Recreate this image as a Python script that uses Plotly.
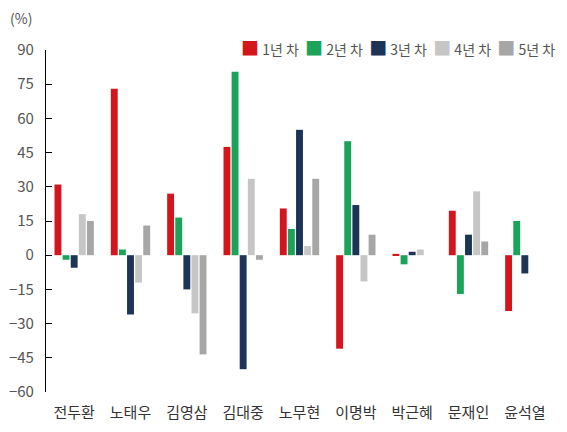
import plotly.graph_objects as go

categories = ['전두환', '노태우', '김영삼', '김대중', '노무현', '이명박', '박근혜', '문재인', '윤석열']
series_names = ['1년 차', '2년 차', '3년 차', '4년 차', '5년 차']
year1 = [31, 73, 27, 47.5, 20.5, -41, 0.6, 19.5, -24.5]
year2 = [-2, 2.5, 16.5, 80.5, 11.5, 50, -4, -17, 15]
year3 = [-5.5, -26, -15, -50, 55, 22, 1.5, 9, -8]
year4 = [18, -12, -25.5, 33.5, 4, -11.5, 2.5, 28, None]
year5 = [15, 13, -43.5, -2, 33.5, 9, None, 6, None]
y_ticks = [-60, -45, -30, -15, 0, 15, 30, 45, 60, 75, 90]

colors = ['#D4161C', '#1CA35A', '#1B3458', '#C6C6C6', '#A6A6A6']
FONT = 'Noto Sans CJK KR'

fig = go.Figure()
for name, vals, col in zip(series_names, [year1, year2, year3, year4, year5], colors):
    fig.add_trace(go.Bar(x=categories, y=vals, name=name, marker_color=col,
                         marker_line_width=0, showlegend=False))

# compact legend drawn as one text line (colored squares + series names)
legend_text = '&nbsp;&nbsp;'.join(
    f'<span style="color:{c};font-size:18px">■</span> {nm}' for nm, c in zip(series_names, colors))

n = len(categories)
fig.update_layout(
    width=567, height=432,
    margin=dict(l=38, r=22, t=42, b=48, autoexpand=False),
    paper_bgcolor='white', plot_bgcolor='white',
    barmode='group', bargap=0.28, bargroupgap=0.15,
    font=dict(family=FONT, color='#555555'),
    showlegend=False,
    xaxis=dict(type='category', showline=False, ticks='', showgrid=False,
               tickfont=dict(size=15, color='#333333'), ticklabelstandoff=10,
               range=[-0.5, n - 0.5], automargin=False),
    xaxis2=dict(overlaying='x', anchor='free', position=0.4, range=[-0.5, n - 0.5],
                showline=True, linecolor='#D0D0D0', linewidth=1.5,
                tickmode='array', tickvals=[i - 0.5 for i in range(n + 1)],
                ticks='outside', ticklen=5, tickcolor='#D0D0D0', tickwidth=1,
                showticklabels=False, showgrid=False, zeroline=False, layer='below traces'),
    yaxis=dict(range=[-60, 90], tickmode='array', tickvals=y_ticks,
               showline=True, linecolor='black', linewidth=1.2,
               ticks='inside', ticklen=6, tickcolor='black', tickwidth=1.2,
               showgrid=False, zeroline=False, automargin=False,
               tickfont=dict(size=15, color='#555555'), ticklabelstandoff=8),
    annotations=[
        dict(text='(%)', xref='paper', yref='paper', x=-0.075, y=1.094,
             xanchor='left', yanchor='middle', showarrow=False,
             font=dict(size=14, color='#555555')),
        dict(text=legend_text, xref='paper', yref='paper', x=1.008, y=1.009,
             xanchor='right', yanchor='middle', showarrow=False,
             font=dict(size=14, color='#555555')),
    ],
)

fig.write_html('out.html')
